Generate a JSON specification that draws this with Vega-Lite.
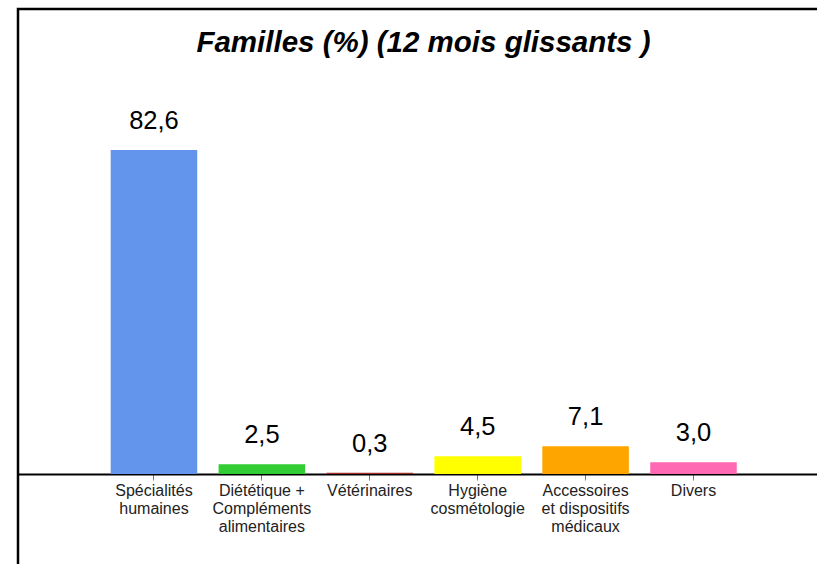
{
  "$schema": "https://vega.github.io/schema/vega-lite/v6.json",
  "width": 805,
  "height": 560,
  "padding": {"left": 18, "top": 9, "right": 0, "bottom": 0},
  "background": "white",
  "config": {
    "view": {"stroke": "black", "strokeWidth": 2.5},
    "font": "Liberation Sans",
    "locale": {"number": {"decimal": ",", "thousands": " ", "grouping": [3], "currency": ["", " €"]}}
  },
  "title": {
    "text": "Familles (%) (12 mois glissants )",
    "font": "Liberation Sans",
    "fontSize": 29.5,
    "fontStyle": "italic",
    "fontWeight": "bold",
    "color": "black",
    "anchor": "middle",
    "frame": "group",
    "baseline": "alphabetic",
    "offset": -72,
    "dx": 3
  },
  "data": {
    "values": [
      {"famille": "Spécialités humaines", "pct": 82.6},
      {"famille": "Diététique + Compléments alimentaires", "pct": 2.5},
      {"famille": "Vétérinaires", "pct": 0.3},
      {"famille": "Hygiène cosmétologie", "pct": 4.5},
      {"famille": "Accessoires et dispositifs médicaux", "pct": 7.1},
      {"famille": "Divers", "pct": 3.0}
    ]
  },
  "encoding": {
    "x": {
      "field": "famille",
      "type": "nominal",
      "sort": null,
      "scale": {"paddingInner": 0.198, "paddingOuter": 0.829, "align": 0.518},
      "axis": {
        "title": null,
        "labelAngle": 0,
        "offset": -95,
        "domainColor": "black",
        "domainWidth": 2,
        "tickColor": "#777777",
        "tickSize": 6,
        "tickWidth": 1,
        "labelFont": "Liberation Sans",
        "labelFontSize": 16,
        "labelColor": "#222222",
        "labelPadding": 2,
        "labelLineHeight": 18,
        "labelLimit": 0,
        "labelOverlap": false,
        "labelExpr": "datum.label == 'Spécialités humaines' ? ['Spécialités','humaines'] : datum.label == 'Diététique + Compléments alimentaires' ? ['Diététique +','Compléments','alimentaires'] : datum.label == 'Hygiène cosmétologie' ? ['Hygiène','cosmétologie'] : datum.label == 'Accessoires et dispositifs médicaux' ? ['Accessoires','et dispositifs','médicaux'] : datum.label"
      }
    },
    "y": {
      "field": "pct",
      "type": "quantitative",
      "scale": {"domain": [-24.2, 118.5], "nice": false},
      "axis": null
    }
  },
  "layer": [
    {
      "mark": {"type": "bar"},
      "encoding": {
        "color": {
          "field": "famille",
          "type": "nominal",
          "sort": null,
          "scale": {
            "domain": ["Spécialités humaines", "Diététique + Compléments alimentaires", "Vétérinaires", "Hygiène cosmétologie", "Accessoires et dispositifs médicaux", "Divers"],
            "range": ["#6495ED", "#32CD32", "#A0302A", "#FFFF00", "#FFA500", "#FF69B4"]
          },
          "legend": null
        }
      }
    },
    {
      "mark": {"type": "text", "baseline": "alphabetic", "dy": -21, "fontSize": 25.5, "color": "black", "font": "Liberation Sans"},
      "encoding": {
        "text": {"field": "pct", "type": "quantitative", "format": ".1f"}
      }
    }
  ]
}
